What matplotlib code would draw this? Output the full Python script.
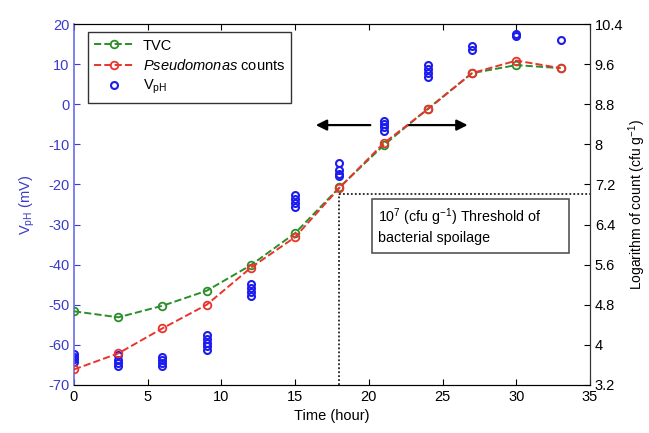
import matplotlib
matplotlib.use("Agg")
import matplotlib.pyplot as plt
from matplotlib.patches import Rectangle

plt.rcParams['font.family'] = ['Liberation Sans', 'DejaVu Sans']
plt.rcParams['mathtext.fontset'] = 'custom'
plt.rcParams['mathtext.rm'] = 'Liberation Sans'
plt.rcParams['mathtext.it'] = 'Liberation Sans:italic'
plt.rcParams['mathtext.bf'] = 'Liberation Sans:bold'
plt.rcParams['axes.unicode_minus'] = False

# ---- data ----
times = [0, 3, 6, 9, 12, 15, 18, 21, 24, 27, 30, 33]
tvc = [4.67, 4.55, 4.78, 5.08, 5.59, 6.23, 7.14, 7.98, 8.71, 9.42, 9.58, 9.52]
pseudomonas = [3.51, 3.83, 4.33, 4.80, 5.54, 6.15, 7.13, 8.02, 8.70, 9.42, 9.67, 9.52]

vph_times = [0, 0, 0, 0,
             3, 3, 3, 3,
             6, 6, 6, 6,
             9, 9, 9, 9, 9,
             12, 12, 12, 12,
             15, 15, 15, 15,
             18, 18, 18, 18,
             21, 21, 21, 21,
             24, 24, 24, 24,
             27, 27,
             30, 30,
             33]
vph_values = [-62.3, -63.0, -63.6, -64.2,
              -62.6, -63.8, -64.6, -65.2,
              -62.9, -63.7, -64.5, -65.3,
              -57.5, -58.5, -59.5, -60.4, -61.2,
              -44.8, -45.8, -46.8, -47.8,
              -22.6, -23.7, -24.7, -25.7,
              -14.6, -16.5, -17.3, -18.0,
              -4.1, -5.0, -5.8, -6.6,
              6.8, 7.8, 8.8, 9.9,
              13.4, 14.6,
              16.9, 17.6,
              16.1]

threshold_time = 18
threshold_log = 7.0

x_ticks = [0, 5, 10, 15, 20, 25, 30, 35]
left_ticks = [20, 10, 0, -10, -20, -30, -40, -50, -60, -70]
right_ticks = [10.4, 9.6, 8.8, 8, 7.2, 6.4, 5.6, 4.8, 4, 3.2]
right_ticklabels = ['10.4', '9.6', '8.8', '8', '7.2', '6.4', '5.6', '4.8', '4', '3.2']

blue_axis = '#3a3acc'
green = '#2a8f2a'
red = '#e8342c'
blue_pts = '#1c1cf0'

fig = plt.figure(figsize=(6.49, 4.33), dpi=100)
ax = fig.add_axes([74/649, 48/433, 516/649, 361/433])
ax2 = ax.twinx()

# left axis: V_pH
ax.plot(vph_times, vph_values, linestyle='none', marker='o', markersize=5,
        markerfacecolor='none', markeredgecolor=blue_pts, markeredgewidth=1.5,
        label=r'V$_{\rm pH}$')
ax.set_xlim(0, 35)
ax.set_ylim(-70, 20)
ax.set_xticks(x_ticks)
ax.set_yticks(left_ticks)
ax.tick_params(axis='y', colors=blue_axis, direction='in', labelsize=10.5, length=4)
ax.tick_params(axis='x', direction='in', labelsize=10.5, length=4, top=True)
ax.spines['left'].set_color('#6a6af0')
ax.spines['left'].set_linewidth(1.2)
for s in ['top', 'bottom', 'right']:
    ax.spines[s].set_color('#333333')
ax.set_ylabel(r'V$_{\rm pH}$ (mV)', color=blue_axis, fontsize=10.5, labelpad=8)
ax.set_xlabel('Time (hour)', fontsize=10.5, labelpad=4)

# right axis: counts
ax2.plot(times, tvc, linestyle='--', color=green, linewidth=1.4, marker='o',
         markersize=5.5, markerfacecolor='none', markeredgecolor=green,
         markeredgewidth=1.3, label='TVC')
ax2.plot(times, pseudomonas, linestyle='--', color=red, linewidth=1.4, marker='o',
         markersize=5.5, markerfacecolor='none', markeredgecolor=red,
         markeredgewidth=1.3, label=r'$\it{Pseudomonas}$ counts')
ax2.set_ylim(3.2, 10.4)
ax2.set_yticks(right_ticks)
ax2.set_yticklabels(right_ticklabels)
ax2.tick_params(axis='y', direction='in', labelsize=10.5, length=4)
ax2.spines['right'].set_color('#333333')
ax2.spines['left'].set_visible(False)
ax2.set_ylabel(r'Logarithm of count (cfu g$^{-1}$)', fontsize=10, labelpad=2)

# threshold dotted lines
ax2.plot([threshold_time, threshold_time], [3.2, threshold_log], linestyle=(0, (1, 1.2)),
         color='#222222', linewidth=1.3)
ax2.plot([threshold_time, 35], [threshold_log, threshold_log], linestyle=(0, (1, 1.2)),
         color='#222222', linewidth=1.3)

# annotation box
ax2.add_patch(Rectangle((20.2, 5.84), 13.4, 1.06, facecolor='white',
                        edgecolor='#555555', linewidth=1.2, zorder=3))
ax2.text(20.6, 6.37, '10$^{7}$ (cfu g$^{-1}$) Threshold of\nbacterial spoilage',
         fontsize=10.3, va='center', ha='left', linespacing=1.25, zorder=4)

# arrows
ax.annotate('', xy=(16.4, -5.2), xytext=(20.1, -5.2),
            arrowprops=dict(arrowstyle='-|>', color='black', lw=1.6,
                            mutation_scale=16, shrinkA=0, shrinkB=0))
ax.annotate('', xy=(26.7, -5.2), xytext=(22.7, -5.2),
            arrowprops=dict(arrowstyle='-|>', color='black', lw=1.6,
                            mutation_scale=16, shrinkA=0, shrinkB=0))

# legend
h1, l1 = ax2.get_legend_handles_labels()
h0, l0 = ax.get_legend_handles_labels()
leg = ax2.legend(h1 + h0, l1 + l0, loc='upper left', bbox_to_anchor=(0.027, 0.978),
                 borderaxespad=0, fancybox=False, edgecolor='#333333',
                 fontsize=10.5, handlelength=2.7, framealpha=1,
                 labelspacing=0.35, borderpad=0.45, handletextpad=0.6)
leg.get_frame().set_linewidth(1.0)

fig.savefig('out.png', dpi=100)
